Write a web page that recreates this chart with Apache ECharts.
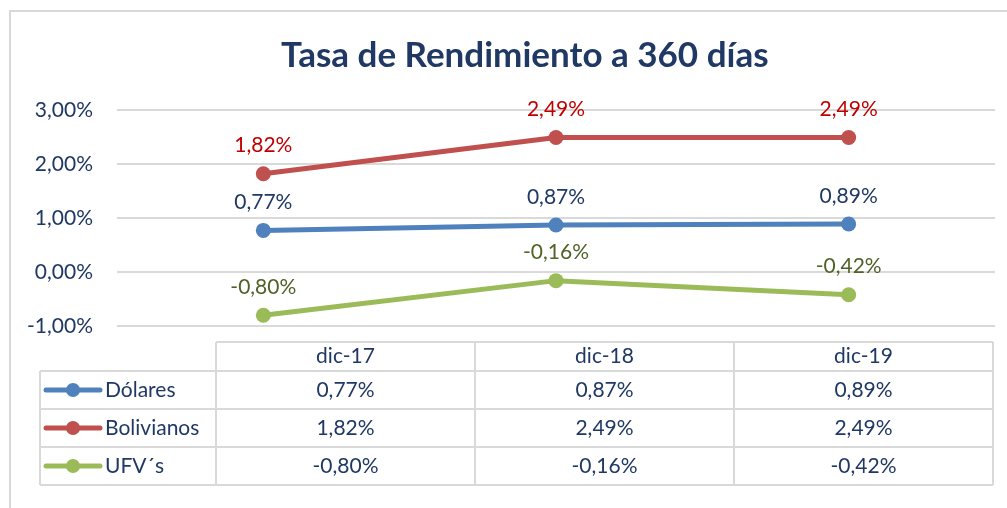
<!DOCTYPE html>
<html>
<head>
<meta charset="utf-8">
<script src="https://cdn.jsdelivr.net/npm/echarts@6/dist/echarts.min.js"></script>
<style>
  html, body { margin: 0; padding: 0; background: #fff; }
  #chart { width: 1007px; height: 508px; }
</style>
</head>
<body>
<div id="chart"></div>
<script>
var categories = ['dic-17', 'dic-18', 'dic-19']
var seriesNames = ['Dólares', 'Bolivianos', 'UFV´s']
var dolares = [0.77, 0.87, 0.89]
var bolivianos = [1.82, 2.49, 2.49]
var ufvs = [-0.80, -0.16, -0.42]
var yTicks = [-1, 0, 1, 2, 3]

var lineColors = ['#4F81BD', '#C0504D', '#9BBB59']
var labelColors = ['#1F3864', '#C00000', '#4F6228']
var textColor = '#1F3864'
var borderColor = '#D9D9D9'
var font = 'Lato, "Liberation Sans", sans-serif'
var fs = 21

function pct(v){
    return v.toFixed(2).replace('.', ',') + '%'
}

var allValues = [dolares, bolivianos, ufvs]

var seriesList = []
for (var i = 0; i < seriesNames.length; i++){
    seriesList.push({
        name: seriesNames[i],
        type: 'line',
        data: allValues[i],
        symbol: 'circle',
        symbolSize: 15,
        itemStyle: { color: lineColors[i] },
        lineStyle: { width: 5, color: lineColors[i] },
        label: {
            show: true,
            position: 'top',
            distance: 10,
            fontSize: fs,
            fontFamily: font,
            color: labelColors[i],
            formatter: function(p){ return pct(p.value) }
        }
    })
}

// data table below the chart (Excel style)
var tblTop = 342, rowH = 38, headH = 29
var legLeft = 40, colLeft = 216, colW = 259
var tblRight = colLeft + colW * categories.length
var tblBottom = tblTop + headH + rowH * seriesNames.length
var els = []
function hline(x1, x2, y){
    els.push({ type: 'line', shape: { x1: x1, y1: y, x2: x2, y2: y }, style: { stroke: borderColor, lineWidth: 2 } })
}
function vline(x, y1, y2){
    els.push({ type: 'line', shape: { x1: x, y1: y1, x2: x, y2: y2 }, style: { stroke: borderColor, lineWidth: 2 } })
}
// outer frame of the chart
els.push({ type: 'rect', shape: { x: 10, y: 11, width: 1020, height: 520 }, style: { fill: 'none', stroke: borderColor, lineWidth: 2 } })

hline(colLeft, tblRight, tblTop)
for (var r = 0; r <= seriesNames.length; r++){
    hline(legLeft, tblRight, tblTop + headH + r * rowH)
}
vline(legLeft, tblTop + headH, tblBottom)
for (var c = 0; c <= categories.length; c++){
    vline(colLeft + c * colW, tblTop, tblBottom)
}
for (var c = 0; c < categories.length; c++){
    els.push({ type: 'text', x: colLeft + c * colW + colW / 2, y: tblTop + headH / 2,
        style: { text: categories[c], fill: textColor, font: fs + 'px ' + font, textAlign: 'center', textVerticalAlign: 'middle' } })
}
for (var r = 0; r < seriesNames.length; r++){
    var cy = tblTop + headH + r * rowH + rowH / 2
    els.push({ type: 'line', shape: { x1: 46, y1: cy, x2: 100, y2: cy }, style: { stroke: lineColors[r], lineWidth: 5, lineCap: 'round' } })
    els.push({ type: 'circle', shape: { cx: 73, cy: cy, r: 7 }, style: { fill: lineColors[r] } })
    els.push({ type: 'text', x: 105, y: cy,
        style: { text: seriesNames[r], fill: textColor, font: fs + 'px ' + font, textAlign: 'left', textVerticalAlign: 'middle' } })
    for (var c = 0; c < categories.length; c++){
        els.push({ type: 'text', x: colLeft + c * colW + colW / 2, y: cy,
            style: { text: pct(allValues[r][c]), fill: textColor, font: fs + 'px ' + font, textAlign: 'center', textVerticalAlign: 'middle' } })
    }
}

var option = {
    animation: false,
    backgroundColor: '#fff',
    title: {
        text: 'Tasa de Rendimiento a 360 días',
        left: 276,
        top: 33,
        textStyle: { fontSize: 35, fontWeight: 'bold', color: textColor, fontFamily: font }
    },
    grid: { left: 117, right: 12, top: 110, bottom: 182 },
    xAxis: {
        type: 'category',
        data: categories,
        boundaryGap: true,
        axisLine: { show: false },
        axisTick: { show: false },
        axisLabel: { show: false }
    },
    yAxis: {
        type: 'value',
        min: yTicks[0],
        max: yTicks[yTicks.length - 1],
        interval: 1,
        axisLine: { show: false },
        axisTick: { show: false },
        axisLabel: {
            margin: 24,
            fontSize: fs,
            fontFamily: font,
            color: textColor,
            formatter: function(v){ return pct(v) }
        },
        splitLine: { lineStyle: { color: borderColor, width: 2 } }
    },
    series: seriesList,
    graphic: { elements: els }
}

var myChart = echarts.init(document.getElementById('chart'))
myChart.setOption(option)
</script>
</body>
</html>
